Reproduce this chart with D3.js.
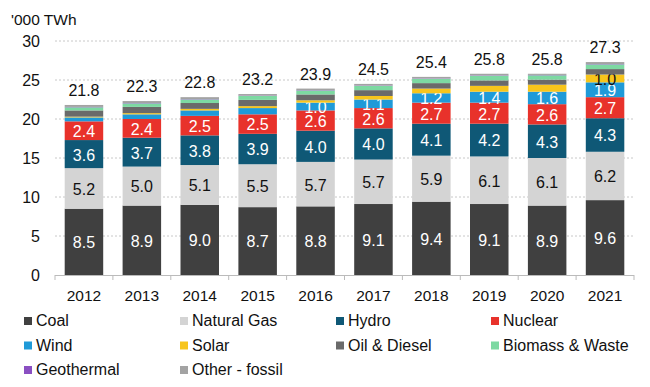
<!DOCTYPE html>
<html><head><meta charset="utf-8">
<script src="https://cdn.jsdelivr.net/npm/d3@7"></script>
<style>body{margin:0;background:#fff}svg{font-family:"Liberation Sans",Arial,sans-serif}</style>
</head><body><svg id="c" width="650" height="387"></svg>
<script>
const years = ["2012","2013","2014","2015","2016","2017","2018","2019","2020","2021"];
const coal = [8.5,8.9,9.0,8.7,8.8,9.1,9.4,9.1,8.9,9.6];
const gas = [5.2,5.0,5.1,5.5,5.7,5.7,5.9,6.1,6.1,6.2];
const hydro = [3.6,3.7,3.8,3.9,4.0,4.0,4.1,4.2,4.3,4.3];
const nuclear = [2.4,2.4,2.5,2.5,2.6,2.6,2.7,2.7,2.6,2.7];
const wind = [0.5,0.6,0.7,0.8,1.0,1.1,1.2,1.4,1.6,1.9];
const solar = [0.1,0.15,0.2,0.25,0.3,0.45,0.6,0.75,0.9,1.0];
const oil = [0.8,0.8,0.75,0.8,0.75,0.75,0.7,0.7,0.65,0.7];
const biomass = [0.4,0.45,0.45,0.5,0.5,0.55,0.55,0.6,0.55,0.6];
const geothermal = [0.05,0.05,0.05,0.05,0.05,0.05,0.05,0.05,0.05,0.05];
const otherFossil = [0.25,0.25,0.25,0.2,0.2,0.2,0.2,0.2,0.15,0.25];
const totals = [21.8,22.3,22.8,23.2,23.9,24.5,25.4,25.8,25.8,27.3];
const yTicks = [0,5,10,15,20,25,30];

const series = [
  {name:"Coal", values:coal, color:"#404040", label:"all", text:"#fff"},
  {name:"Natural Gas", values:gas, color:"#d4d4d4", label:"all", text:"#111"},
  {name:"Hydro", values:hydro, color:"#0f5876", label:"all", text:"#fff"},
  {name:"Nuclear", values:nuclear, color:"#e8322b", label:"all", text:"#fff"},
  {name:"Wind", values:wind, color:"#1f9ad8", label:"min1", text:"#fff"},
  {name:"Solar", values:solar, color:"#f7c51c", label:"min1", text:"#111"},
  {name:"Oil & Diesel", values:oil, color:"#6a6a6a", label:"none"},
  {name:"Biomass & Waste", values:biomass, color:"#7dd9a2", label:"none"},
  {name:"Geothermal", values:geothermal, color:"#8a4fc2", label:"none"},
  {name:"Other - fossil", values:otherFossil, color:"#a3a3a3", label:"none"}
];

const svg = d3.select("#c");
const x = d3.scaleBand().domain(years).range([55,634]).paddingInner(0.335).paddingOuter(0.1675);
const y = d3.scaleLinear().domain([0,30]).range([275,41]);

// gridlines
svg.append("g").selectAll("line").data(yTicks.filter(d=>d>0)).join("line")
  .attr("x1",55).attr("x2",634).attr("y1",d=>y(d)).attr("y2",d=>y(d))
  .attr("stroke","#c8c8c8").attr("stroke-dasharray","2,2").attr("stroke-width",1);

// y labels
svg.append("g").selectAll("text").data(yTicks).join("text")
  .attr("x",40).attr("y",d=>y(d)).attr("dy","0.36em").attr("text-anchor","end")
  .attr("font-size",16).attr("fill","#111").text(d=>d);

svg.append("text").attr("x",11).attr("y",25).attr("font-size",15.5).attr("fill","#111").text("'000 TWh");

// stack
const table = years.map((yr,i)=>{const o={year:yr}; series.forEach(s=>o[s.name]=s.values[i]); return o;});
const stack = d3.stack().keys(series.map(s=>s.name))(table);

stack.forEach((layer,li)=>{
  const s = series[li];
  const g = svg.append("g");
  g.selectAll("rect").data(layer).join("rect")
    .attr("x",d=>x(d.data.year)).attr("width",x.bandwidth())
    .attr("y",d=>y(d[1])).attr("height",d=>y(d[0])-y(d[1]))
    .attr("fill",s.color);
  if(s.label!=="none"){
    const lab = layer.filter(d=>s.label==="all" || (d[1]-d[0])>=0.95);
    g.selectAll("text").data(lab).join("text")
      .attr("x",d=>x(d.data.year)+x.bandwidth()/2)
      .attr("y",d=>y((d[0]+d[1])/2)).attr("dy","0.4em")
      .attr("text-anchor","middle").attr("font-size",16).attr("fill",s.text)
      .text(d=>(d[1]-d[0]).toFixed(1));
  }
});

// totals
svg.append("g").selectAll("text").data(years).join("text")
  .attr("x",d=>x(d)+x.bandwidth()/2).attr("y",(d,i)=>y(totals[i])-9)
  .attr("text-anchor","middle").attr("font-size",16).attr("fill","#111")
  .text((d,i)=>totals[i].toFixed(1));

// x axis
const xa = svg.append("g");
xa.append("line").attr("x1",55).attr("x2",634).attr("y1",275.5).attr("y2",275.5).attr("stroke","#bbb");
const bounds = [55].concat(years.map(d=>x(d)+x.bandwidth()+x.step()*x.paddingInner()/2));
bounds[bounds.length-1]=634;
xa.selectAll("line.t").data(bounds).join("line").attr("class","t")
  .attr("x1",d=>d).attr("x2",d=>d).attr("y1",275).attr("y2",280).attr("stroke","#bbb");
xa.selectAll("text").data(years).join("text")
  .attr("x",d=>x(d)+x.bandwidth()/2).attr("y",301).attr("text-anchor","middle")
  .attr("font-size",15.5).attr("fill","#111").text(d=>d);

// legend
const cols=[24,180,336,491];
const lg = svg.append("g").selectAll("g").data(series).join("g")
  .attr("transform",(d,i)=>`translate(${cols[i%4]},${326+Math.floor(i/4)*24.5})`);
lg.append("rect").attr("x",0).attr("y",-9).attr("width",8).attr("height",8).attr("fill",d=>d.color);
lg.append("text").attr("x",12).attr("y",0).attr("font-size",16).attr("fill","#111").text(d=>d.name);
</script></body></html>
